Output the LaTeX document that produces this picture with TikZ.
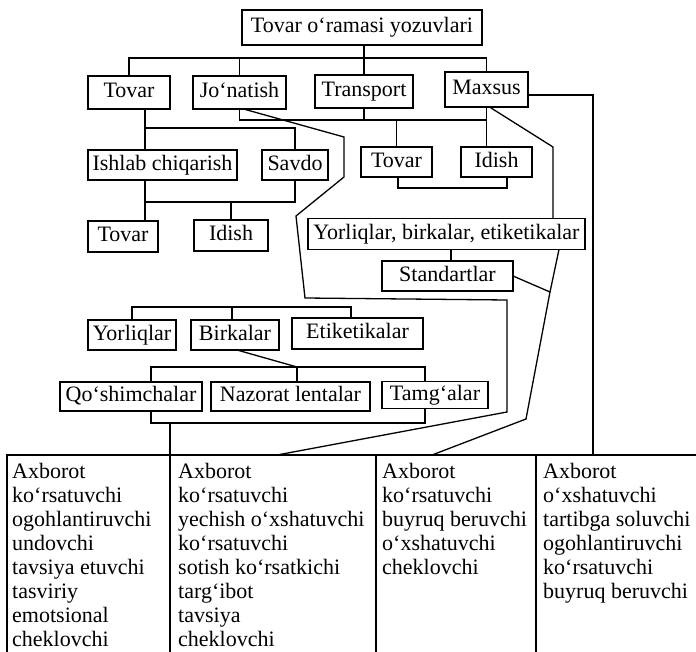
\documentclass[tikz,border=0pt]{standalone}
\usepackage{fontspec}
\setmainfont{Liberation Serif}
\begin{document}
\begin{tikzpicture}[x=1pt,y=-1pt,
  bx/.style={draw, line width=1.3pt, inner sep=0pt, outer sep=0pt,
    text height=15pt, text depth=4.5pt, font=\fontsize{22}{24.5}\selectfont},
  ln/.style={line width=1.3pt, line join=miter},
  tx/.style={inner sep=0pt, anchor=base west, font=\fontsize{22}{24.5}\selectfont},
  col/.style={draw=none, inner sep=0pt, outer sep=0pt, minimum height=197pt}]
\useasboundingbox (0,0) rectangle (696,652);
\fill[white] (0,0) rectangle (696,652);

% boxes
\node[bx, minimum width=240pt, minimum height=35pt] (top) at (362,27.5) {Tovar o‘ramasi yozuvlari};
\node[bx, minimum width=82pt, minimum height=33pt] (tova) at (129,92.5) {Tovar};
\node[bx, minimum width=93pt, minimum height=33pt] (jon) at (239.5,92.5) {Jo‘natish};
\node[bx, minimum width=98pt, minimum height=33pt] (trans) at (364,91.5) {Transport};
\node[bx, minimum width=83pt, minimum height=35pt] (maxsus) at (486.5,89.5) {Maxsus};
\node[bx, minimum width=149pt, minimum height=30pt] (ish) at (162.5,165) {Ishlab chiqarish};
\node[bx, minimum width=66pt, minimum height=30pt] (savdo) at (295,165) {Savdo};
\node[bx, minimum width=71pt, minimum height=30pt] (tovb) at (396.5,162) {Tovar};
\node[bx, minimum width=71pt, minimum height=30pt] (idb) at (496.5,162) {Idish};
\node[bx, minimum width=70pt, minimum height=31pt] (tovc) at (123,236.5) {Tovar};
\node[bx, minimum width=74pt, minimum height=31pt] (idc) at (231,235.5) {Idish};
\node[bx, minimum width=277pt, minimum height=31pt] (ybe) at (446.5,234) {Yorliqlar, birkalar, etiketikalar};
\node[bx, minimum width=131pt, minimum height=30pt] (std) at (447.5,276) {Standartlar};
\node[bx, minimum width=88pt, minimum height=30pt] (yor) at (132,335) {Yorliqlar};
\node[bx, minimum width=88pt, minimum height=30pt] (bir) at (235,335) {Birkalar};
\node[bx, minimum width=131pt, minimum height=31pt] (eti) at (357.5,333.5) {Etiketikalar};
\node[bx, minimum width=142pt, minimum height=29pt] (qos) at (131,396.5) {Qo‘shimchalar};
\node[bx, minimum width=159pt, minimum height=29pt] (naz) at (290.5,396.5) {Nazorat lentalar};
\node[bx, minimum width=106pt, minimum height=27pt] (tam) at (435,395) {Tamg‘alar};

% table columns
\node[col, minimum width=163pt] (col1) at (88.5,553.5) {};
\node[col, minimum width=206pt] (col2) at (273,553.5) {};
\node[col, minimum width=160pt] (col3) at (456,553.5) {};
\node[col, minimum width=160pt] (col4) at (616,553.5) {};
\draw[ln] (col1.south west) -- (col1.north west) -- (col4.north east);
\draw[ln] (col2.north west) -- (col2.south west);
\draw[ln] (col3.north west) -- (col3.south west);
\draw[ln] (col4.north west) -- (col4.south west);

% table texts
\foreach \t [count=\i] in {Axborot, ko‘rsatuvchi, ogohlantiruvchi, undovchi, tavsiya etuvchi, tasviriy, emotsional, cheklovchi}
  \node[tx] (ta\i) at (12,{478+24.1*(\i-1)}) {\t};
\foreach \t [count=\i] in {Axborot, ko‘rsatuvchi, yechish o‘xshatuvchi, ko‘rsatuvchi, sotish ko‘rsatkichi, targ‘ibot, tavsiya, cheklovchi}
  \node[tx] (tb\i) at (178,{478+24.1*(\i-1)}) {\t};
\foreach \t [count=\i] in {Axborot, ko‘rsatuvchi, buyruq beruvchi, o‘xshatuvchi, cheklovchi}
  \node[tx] (tc\i) at (382,{478+24.1*(\i-1)}) {\t};
\foreach \t [count=\i] in {Axborot, o‘xshatuvchi, tartibga soluvchi, ogohlantiruvchi, ko‘rsatuvchi, buyruq beruvchi}
  \node[tx] (td\i) at (543,{478+24.1*(\i-1)}) {\t};

% level 1
\coordinate (b1) at (0,58);
\draw[ln] (tova.north) |- (maxsus.north |- b1) -- (maxsus.north);
\draw[ln] (jon.north) -- (jon.north |- b1);
\draw[ln] (trans.north) -- (trans.north |- top.south);

% Tovar branch
\coordinate (c2) at (145,128);
\draw[ln] (tova.south -| c2) -- (ish.north -| c2);
\draw[ln] (c2) -| (savdo.north);
\coordinate (c3) at (145,202);
\draw[ln] (ish.south -| c3) -- (tovc.north -| c3);
\draw[ln] (c3) -| (savdo.south);
\draw[ln] (idc.north) -- (idc.north |- c3);

% Transport branch
\coordinate (c4) at (0,120);
\draw[ln] (jon.south) |- (maxsus.south |- c4);
\draw[ln] (maxsus.south) -- (idb.north -| maxsus.south);
\draw[ln] (trans.south) -- (trans.south |- c4);
\draw[ln] (tovb.north) -- (tovb.north |- c4);
\coordinate (c5a) at (398,188);
\coordinate (c5b) at (507,188);
\draw[ln] (tovb.south -| c5a) -- (c5a) -- (c5b) -- (idb.south -| c5b);

% Jo'natish long line
\coordinate (j1) at (344,137);
\coordinate (j2) at (344,177);
\coordinate (j3) at (296,216);
\coordinate (j4) at (305,298);
\coordinate (j5) at (507,300);
\coordinate (j6) at (507,412);
\draw[ln] ([xshift=4pt]jon.south) -- (j1) -- (j2) -- (j3) -- (j4) -- (j5) -- (j6) -- ([xshift=4pt]col2.north);

% Maxsus right line
\coordinate (m1) at (593,95);
\draw[ln] (maxsus.east |- m1) -- (m1) -- (col4.north -| m1);

% Maxsus diagonal
\coordinate (k1) at (553,147);
\coordinate (k2) at (559,0);
\coordinate (k3) at (550,292);
\coordinate (k4) at (526,419);
\coordinate (k5) at (432,0);
\draw[ln] ([xshift=3pt]maxsus.south) -- (k1) -- (ybe.north -| k1);
\draw[ln] (ybe.south -| k2) -- (k3) -- (k4) -- (col3.north -| k5);
\draw[ln] (std.east) -- (k3);
\coordinate (s1) at (451,0);
\draw[ln] (ybe.south -| s1) -- (std.north -| s1);

% Yorliqlar / Birkalar / Etiketikalar
\coordinate (e1) at (351,307);
\coordinate (b2) at (232,307);
\draw[ln] (yor.north) |- (e1) -- (eti.north -| e1);
\draw[ln] (b2) -- (bir.north -| b2);

% Birkalar children
\coordinate (d1) at (297,367);
\coordinate (q1) at (151,367);
\coordinate (q2) at (425,367);
\draw[ln] ([xshift=2pt]bir.south) -- (d1);
\draw[ln] (qos.north -| q1) -- (q1) -- (q2) -- (tam.north -| q2);
\draw[ln] (d1) -- (naz.north -| d1);
\coordinate (r1) at (151,423);
\coordinate (r2) at (425,423);
\coordinate (r3) at (170,423);
\draw[ln] (qos.south -| r1) -- (r1) -- (r2) -- (tam.south -| r2);
\draw[ln] (r3) -- (col2.north west);
\end{tikzpicture}
\end{document}
